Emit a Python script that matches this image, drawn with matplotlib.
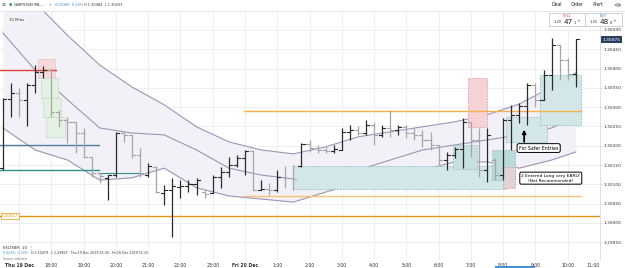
import matplotlib
matplotlib.use("Agg")
import matplotlib.pyplot as plt
from matplotlib.patches import Rectangle, Circle
import numpy as np

# ---------------- data (15-min bars, Thu 19 Dec 16:30 ...) ----------------
opens = [1.30142, 1.30321, 1.30337, 1.30319, 1.30357, 1.30391, 1.30396, 1.30288, 1.30267, 1.30262,
         1.30233, 1.30171, 1.30129, 1.30117, 1.30124, 1.30233, 1.30228, 1.30176, 1.30124, 1.30145,
         1.30078, 1.30085, 1.30093, 1.30096, 1.30101, 1.30080, 1.30078, 1.30119, 1.30132, 1.30150,
         1.30168, 1.30186, 1.30085, 1.30088, 1.30085, 1.30119, 1.30117, 1.30148, 1.30205, 1.30194,
         1.30189, 1.30186, 1.30189, 1.30236, 1.30241, 1.30233, 1.30254, 1.30228, 1.30246, 1.30241,
         1.30249, 1.30233, 1.30228, 1.30215, 1.30202, 1.30163, 1.30176, 1.30192, 1.30262, 1.30215,
         1.30137, 1.30163, 1.30124, 1.30267, 1.30280, 1.30303, 1.30357, 1.30319, 1.30383, 1.30461,
         1.30422, 1.30386]
highs = [1.30324, 1.30363, 1.30350, 1.30363, 1.30409, 1.30407, 1.30402, 1.30293, 1.30275, 1.30262,
         1.30246, 1.30171, 1.30129, 1.30124, 1.30236, 1.30236, 1.30228, 1.30194, 1.30155, 1.30148,
         1.30098, 1.30117, 1.30111, 1.30111, 1.30117, 1.30085, 1.30124, 1.30145, 1.30171, 1.30176,
         1.30189, 1.30189, 1.30111, 1.30104, 1.30137, 1.30148, 1.30150, 1.30207, 1.30215, 1.30202,
         1.30197, 1.30202, 1.30246, 1.30254, 1.30251, 1.30267, 1.30262, 1.30254, 1.30293, 1.30254,
         1.30254, 1.30246, 1.30241, 1.30236, 1.30202, 1.30184, 1.30197, 1.30272, 1.30262, 1.30246,
         1.30246, 1.30168, 1.30272, 1.30306, 1.30311, 1.30363, 1.30363, 1.30396, 1.30479, 1.30461,
         1.30427, 1.30477]
lows = [1.30137, 1.30275, 1.30275, 1.30251, 1.30337, 1.30376, 1.30275, 1.30249, 1.30207, 1.30181,
        1.30168, 1.30119, 1.30104, 1.30060, 1.30119, 1.30210, 1.30168, 1.30119, 1.30119, 1.30078,
        1.30047, 1.29964, 1.30065, 1.30080, 1.30072, 1.30065, 1.30078, 1.30091, 1.30119, 1.30145,
        1.30124, 1.30085, 1.30085, 1.30072, 1.30080, 1.30091, 1.30085, 1.30145, 1.30184, 1.30181,
        1.30181, 1.30181, 1.30189, 1.30215, 1.30228, 1.30228, 1.30202, 1.30223, 1.30223, 1.30228,
        1.30220, 1.30215, 1.30197, 1.30189, 1.30150, 1.30137, 1.30168, 1.30142, 1.30171, 1.30119,
        1.30106, 1.30111, 1.30111, 1.30189, 1.30259, 1.30254, 1.30300, 1.30319, 1.30345, 1.30370,
        1.30370, 1.30352]
closes = [1.30321, 1.30337, 1.30319, 1.30357, 1.30391, 1.30396, 1.30288, 1.30267, 1.30262, 1.30233,
          1.30171, 1.30129, 1.30122, 1.30124, 1.30233, 1.30228, 1.30176, 1.30129, 1.30148, 1.30080,
          1.30085, 1.30096, 1.30096, 1.30101, 1.30111, 1.30075, 1.30119, 1.30132, 1.30150, 1.30168,
          1.30186, 1.30085, 1.30088, 1.30085, 1.30119, 1.30117, 1.30114, 1.30205, 1.30194, 1.30189,
          1.30186, 1.30192, 1.30236, 1.30241, 1.30233, 1.30254, 1.30228, 1.30246, 1.30241, 1.30249,
          1.30233, 1.30228, 1.30215, 1.30202, 1.30163, 1.30176, 1.30192, 1.30262, 1.30215, 1.30137,
          1.30228, 1.30124, 1.30267, 1.30280, 1.30303, 1.30357, 1.30319, 1.30383, 1.30461, 1.30422,
          1.30386, 1.30477]

# Keltner channel (20), read hourly
kc_idx = [0, 4, 8, 12, 16, 20, 24, 28, 32, 36, 40, 44, 48, 52, 56, 60, 64, 68, 71]
kc_upper = [1.30640, 1.30571, 1.30486, 1.30409, 1.30352, 1.30306, 1.30249, 1.30210, 1.30189,
            1.30179, 1.30197, 1.30223, 1.30236, 1.30249, 1.30262, 1.30280, 1.30308, 1.30352, 1.30389]
kc_middle = [1.30492, 1.30396, 1.30319, 1.30246, 1.30233, 1.30228, 1.30189, 1.30142, 1.30124,
             1.30114, 1.30122, 1.30137, 1.30163, 1.30189, 1.30202, 1.30215, 1.30228, 1.30246, 1.30275]
kc_lower = [1.30246, 1.30189, 1.30163, 1.30111, 1.30117, 1.30142, 1.30091, 1.30070, 1.30062,
            1.30054, 1.30080, 1.30104, 1.30117, 1.30137, 1.30158, 1.30158, 1.30142, 1.30163, 1.30184]

price_ticks = [1.2995, 1.3000, 1.3005, 1.3010, 1.3015, 1.3020, 1.3025, 1.3030, 1.3035, 1.3040, 1.3045, 1.3050]
time_tick_idx = [2, 6, 10, 14, 18, 22, 26, 30, 34, 38, 42, 46, 50, 54, 58, 62, 66, 70, 74]
time_tick_lbl = ["Thu 19 Dec", "18:00", "19:00", "20:00", "21:00", "22:00", "23:00", "Fri 20 Dec", "1:00",
                 "2:00", "3:00", "4:00", "5:00", "6:00", "7:00", "8:00", "9:00", "10:00", "11:00"]
last_price = 1.30475
level_line = 1.30017

# ---------------- figure ----------------
W, H = 625, 268
fig = plt.figure(figsize=(W / 100, H / 100), dpi=100)
fig.patch.set_facecolor("white")
ax = fig.add_axes([0, 8 / H, 600 / W, (260 - 11) / H])
XMAX = 71.64
ax.set_xlim(-0.36, XMAX)
ax.set_ylim(1.29904, 1.30549)
ax.set_facecolor("white")
for s in ax.spines.values():
    s.set_visible(False)
ax.spines["right"].set_visible(True)
ax.spines["right"].set_color("#dcdce2")
ax.spines["right"].set_linewidth(0.6)

# grid
for t in price_ticks:
    ax.axhline(t, color="#ececf0", lw=0.6, zorder=0)
for t in time_tick_idx:
    ax.axvline(t, color="#ececf0", lw=0.6, zorder=0)

# Keltner fill + lines
kx = np.array(kc_idx)
ax.fill_between(kx, kc_lower, kc_upper, color="#f3f1f8", zorder=1, lw=0)
for band in (kc_upper, kc_middle, kc_lower):
    ax.plot(kx, band, color="#9d93b8", lw=0.8, zorder=2)

# position boxes
def box(x0, x1, y0, y1, fc, ec, z=3):
    ax.add_patch(Rectangle((x0, y0), x1 - x0, y1 - y0, facecolor=fc, edgecolor=ec,
                           lw=0.6, ls=(0, (2, 1.5)), zorder=z))

box(35.9, 62.3, 1.30088, 1.30148, "#d3e7e8", "#8fbfc1")
box(55.8, 58.7, 1.30140, 1.30202, "#c7e0e1", "#8fbfc1")
box(60.6, 63.5, 1.30111, 1.30189, "#bcd9db", "#8fbfc1")
box(62.0, 63.5, 1.30091, 1.30145, "#e3d3d6", "#d9a0a8")
box(62.3, 67.4, 1.30210, 1.30275, "#d3e7e8", "#8fbfc1")
box(66.6, 71.6, 1.30254, 1.30383, "#d3e7e8", "#8fbfc1")
box(57.6, 60.0, 1.30249, 1.30376, "#f5d2d6", "#e39aa3")
box(4.3, 6.5, 1.30376, 1.30425, "#f7d9dc", "#eab0b6")
box(4.7, 6.8, 1.30324, 1.30376, "#e2f1e2", "#b6dab6")
box(5.0, 7.2, 1.30275, 1.30324, "#e2f1e2", "#b6dab6")
box(5.4, 7.7, 1.30223, 1.30275, "#e2f1e2", "#b6dab6")

# horizontal drawings
ax.plot([-0.36, 6.6], [1.30396, 1.30396], color="#e0403a", lw=1.0, zorder=4)
ax.plot([-0.36, 11.9], [1.30202, 1.30202], color="#4f7f9c", lw=1.0, zorder=4)
ax.plot([-0.36, 11.9], [1.30137, 1.30137], color="#2f9090", lw=1.0, zorder=4)
ax.plot([11.9, 16.9], [1.30129, 1.30129], color="#2f9090", lw=0.8, zorder=4)
ax.plot([29.9, XMAX], [1.30290, 1.30290], color="#f3b24a", lw=1.0, zorder=4)
ax.plot([29.9, XMAX], [1.30070, 1.30070], color="#f5c278", lw=1.0, zorder=4)
ax.axhline(level_line, color="#e3980f", lw=1.0, zorder=4)

# OHLC bars
tick = 0.38
for i, (o, h, l, c) in enumerate(zip(opens, highs, lows, closes)):
    col = "#2b2b2b" if c >= o else "#a6a6a6"
    ax.plot([i, i], [l, h], color=col, lw=0.9, zorder=5, solid_capstyle="butt")
    ax.plot([i - tick, i], [o, o], color=col, lw=0.8, zorder=5)
    ax.plot([i, i + tick], [c, c], color=col, lw=0.8, zorder=5)

# annotations
ax.annotate("", xy=(64.6, 1.30249), xytext=(64.6, 1.30203),
            arrowprops=dict(arrowstyle="-|>", color="black", lw=1.3, mutation_scale=5), zorder=8)
ax.text(66.4, 1.30194, "For Safer Entries", fontsize=3.4, ha="center", va="center", zorder=9,
        bbox=dict(boxstyle="round,pad=0.4", fc="white", ec="black", lw=0.7))
ax.text(67.9, 1.30116, "2 Entered Long very EARLY\n(Not Recommended)", fontsize=3.2, ha="center",
        va="center", zorder=9, linespacing=1.3,
        bbox=dict(boxstyle="round,pad=0.35", fc="white", ec="black", lw=0.7))

# axes ticks
ax.set_yticks(price_ticks)
ax.set_yticklabels([f"{t:.5f}" for t in price_ticks], fontsize=3.2, color="#333")
ax.yaxis.tick_right()
ax.tick_params(axis="y", length=1.5, width=0.4, color="#bbb", pad=1)
ax.set_xticks(time_tick_idx)
ax.set_xticklabels(time_tick_lbl, fontsize=3.3, color="#333")
ax.tick_params(axis="x", length=0, pad=2)
for lbl in ax.get_xticklabels():
    if "Dec" in lbl.get_text():
        lbl.set_fontweight("bold")
    if lbl.get_text() == "11:00":
        lbl.set_horizontalalignment("right")

# last price tag
ax.text(1.004, last_price, f"{last_price:.5f}", transform=ax.get_yaxis_transform(), fontsize=3.2,
        color="white", ha="left", va="center", zorder=10,
        bbox=dict(boxstyle="square,pad=0.25", fc="#2c3e60", ec="none"))
# left level tag
ax.text(0.003, level_line, f"{level_line:.5f}", transform=ax.get_yaxis_transform(), fontsize=2.8,
        color="#e3980f", ha="left", va="center", zorder=10,
        bbox=dict(boxstyle="square,pad=0.25", fc="white", ec="#e3980f", lw=0.5))

# header texts
def ft(x, y, s, **kw):
    fig.text(x / W, 1 - y / H, s, **kw)

fig.add_artist(plt.Line2D([0, 1], [1 - 11 / H, 1 - 11 / H], color="#e0e0e6", lw=0.6))
ft(2, 5, "≡", fontsize=3.6, color="#555", va="center")
ft(9, 5, "●", fontsize=2.6, color="#2aa050", va="center")
ft(14, 5, "GBP/USD ML...", fontsize=3.1, color="#222", va="center")
ft(49, 5, "∨", fontsize=2.6, color="#777", va="center")
ft(55, 5, "0.00388  0.29%", fontsize=2.5, color="#3d8fd0", va="center")
ft(84, 5, "H 1.30484  L 1.30433", fontsize=2.5, color="#333", va="center")
ft(9, 20, "15 Mins", fontsize=2.8, color="#333", va="center",
   bbox=dict(boxstyle="square,pad=0.6", fc="#f4f4f6", ec="none"))
ft(551, 5, "Deal", fontsize=3.3, color="#222", va="center")
ft(571, 5, "Order", fontsize=3.3, color="#222", va="center")
ft(593, 5, "Alert", fontsize=3.3, color="#222", va="center")
fig.add_artist(Circle((618 / W, 1 - 5 / H), 2.6 / W, transform=fig.transFigure, fc="none",
                      ec="#555", lw=0.5))
ft(618, 5, "i", fontsize=2.8, color="#555", va="center", ha="center")

for x0, lab, col, big, small in [(549, "SELL", "#e04848", "47", "1"), (585, "BUY", "#3d8fd0", "48", "0")]:
    fig.add_artist(Rectangle((x0 / W, 1 - 26 / H), 37 / W, 13 / H, transform=fig.transFigure,
                             fc="white", ec="#c8c8d0", lw=0.6))
    ft(x0 + 18, 16, lab, fontsize=2.6, color=col, ha="center", va="center")
    ft(x0 + 13, 22, "1.30", fontsize=2.6, color="#333", ha="right", va="center")
    ft(x0 + 19, 21.5, big, fontsize=5.2, color="#222", ha="center", va="center")
    ft(x0 + 25, 23, small, fontsize=2.6, color="#222", ha="left", va="center")
    ft(x0 + 29, 21, "▲", fontsize=1.8, color="#3d8fd0", ha="left", va="center")

# bottom legend
ft(3, 247, "KELTNER  20  ⋮", fontsize=2.7, color="#333", va="center")
ft(3, 253, "0.003%  0.20%", fontsize=2.3, color="#3d8fd0", va="center")
ft(31, 253, "H 1.30479   L 1.29963   Thu 19 Dec 2019 16:30 - Fri 20 Dec 2019 11:15",
   fontsize=2.3, color="#333", va="center")
ft(3, 258.5, "Source indicator", fontsize=2.2, color="#777", va="center")
fig.add_artist(Rectangle((495 / W, 0), 40 / W, 2 / H, transform=fig.transFigure, fc="#4a8fd0", ec="none"))

fig.savefig("out.png", dpi=100)
